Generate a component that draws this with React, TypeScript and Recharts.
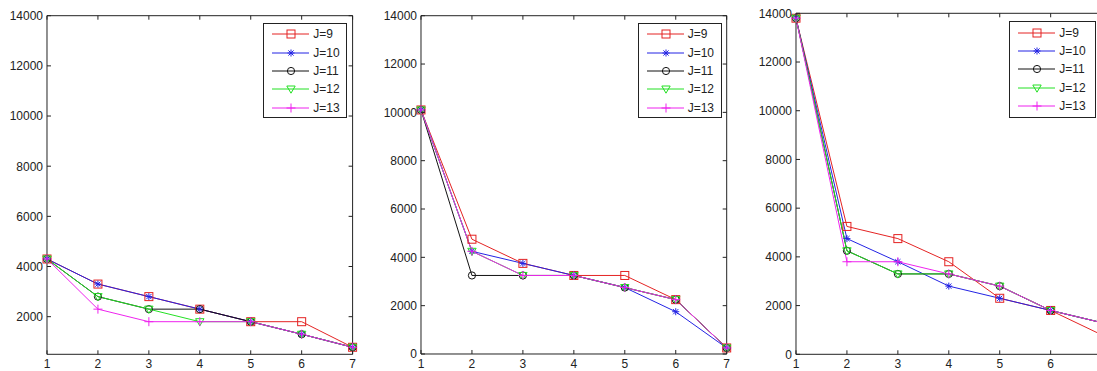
import React from 'react';
import { LineChart, Line, XAxis, YAxis, Legend } from 'recharts';

const xValues = [1, 2, 3, 4, 5, 6, 7];
// the right panel is cut at the window edge, so its last label is not shown
const xTicksCut = [1, 2, 3, 4, 5, 6];
const seriesNames = ['J=9', 'J=10', 'J=11', 'J=12', 'J=13'];
const seriesKeys = ['j9', 'j10', 'j11', 'j12', 'j13'];
const seriesColors = ['#e42222', '#2222e4', '#111111', '#22e022', '#ee22ee'];
const seriesMarkers = ['square', 'star', 'circle', 'triangle', 'plus'];

const yTicksFrom2000 = [2000, 4000, 6000, 8000, 10000, 12000, 14000];
const yTicksFrom0 = [0, 2000, 4000, 6000, 8000, 10000, 12000, 14000];

// left panel
const p1J9 = [4300, 3300, 2800, 2300, 1800, 1800, 780];
const p1J10 = [4300, 3300, 2800, 2300, 1800, 1300, 780];
const p1J11 = [4300, 2800, 2300, 2300, 1800, 1300, 780];
const p1J12 = [4300, 2800, 2300, 1800, 1800, 1300, 780];
const p1J13 = [4300, 2300, 1800, 1800, 1800, 1300, 780];

// middle panel
const p2J9 = [10100, 4750, 3750, 3250, 3250, 2250, 250];
const p2J10 = [10100, 4250, 3750, 3250, 2750, 1750, 250];
const p2J11 = [10100, 3250, 3250, 3250, 2750, 2250, 250];
const p2J12 = [10100, 4250, 3250, 3250, 2750, 2250, 250];
const p2J13 = [10100, 4250, 3250, 3250, 2750, 2250, 250];

// right panel
const p3J9 = [13800, 5250, 4750, 3800, 2300, 1800, 800];
const p3J10 = [13800, 4750, 3800, 2800, 2300, 1800, 1300];
const p3J11 = [13800, 4250, 3300, 3300, 2800, 1800, 1300];
const p3J12 = [13800, 4250, 3300, 3300, 2800, 1800, 1300];
const p3J13 = [13800, 3800, 3800, 3300, 2800, 1800, 1300];

const FONT = '"Liberation Sans", Arial, Helvetica, sans-serif';
const AXIS = '#222';

const buildRows = (series: number[][]) =>
  xValues.map((x, i) => {
    const row: any = { x };
    seriesKeys.forEach((k, s) => (row[k] = series[s][i]));
    return row;
  });

const Marker = ({ shape, cx, cy, color }: any) => {
  const p = { stroke: color, strokeWidth: 1, fill: 'none' };
  if (shape === 'square') return <rect x={cx - 4} y={cy - 4} width={8} height={8} {...p} />;
  if (shape === 'circle') return <circle cx={cx} cy={cy} r={3.6} {...p} />;
  if (shape === 'triangle')
    return <polygon points={`${cx - 4.2},${cy - 3} ${cx + 4.2},${cy - 3} ${cx},${cy + 4.2}`} {...p} />;
  if (shape === 'plus')
    return <path d={`M${cx - 4.5},${cy}H${cx + 4.5}M${cx},${cy - 4.5}V${cy + 4.5}`} {...p} />;
  return (
    <path
      d={`M${cx - 3.5},${cy}H${cx + 3.5}M${cx},${cy - 3.5}V${cy + 3.5}M${cx - 2.6},${cy - 2.6}L${cx + 2.6},${cy + 2.6}M${cx - 2.6},${cy + 2.6}L${cx + 2.6},${cy - 2.6}`}
      {...p}
    />
  );
};

const makeDot = (shape: string, color: string, key: string) => (props: any) =>
  <Marker key={`${key}-${props.index}`} shape={shape} cx={props.cx} cy={props.cy} color={color} />;

const BottomTick = (p: any) => (
  <g>
    <line x1={p.x} y1={p.y} x2={p.x} y2={p.y - 4} stroke={AXIS} />
    <text x={p.x} y={p.y + 5} dy="0.71em" textAnchor="middle" fontSize={12} fontFamily={FONT} fill="#222">
      {p.payload.value}
    </text>
  </g>
);
const TopTick = (p: any) => <line x1={p.x} y1={p.y} x2={p.x} y2={p.y + 4} stroke={AXIS} />;
const LeftTick = (p: any) => (
  <g>
    <line x1={p.x} y1={p.y} x2={p.x + 4} y2={p.y} stroke={AXIS} />
    <text x={p.x - 4} y={p.y} dy="0.36em" textAnchor="end" fontSize={12} fontFamily={FONT} fill="#222">
      {p.payload.value}
    </text>
  </g>
);
const RightTick = (p: any) => <line x1={p.x} y1={p.y} x2={p.x - 4} y2={p.y} stroke={AXIS} />;

const LegendBox = ({ w, h }: any) => (
  <div
    style={{
      width: w,
      height: h,
      boxSizing: 'border-box',
      border: '1px solid #222',
      background: '#fff',
      paddingTop: 1.5,
      fontFamily: FONT,
      fontSize: 12,
      color: '#222',
    }}
  >
    {seriesNames.map((n, i) => (
      <div key={n} style={{ display: 'flex', alignItems: 'center', height: 18.3 }}>
        <svg width={49} height={12} style={{ display: 'block' }}>
          <line x1={8} y1={6} x2={45} y2={6} stroke={seriesColors[i]} />
          <Marker shape={seriesMarkers[i]} cx={27} cy={6} color={seriesColors[i]} />
        </svg>
        <span>{n}</span>
      </div>
    ))}
  </div>
);

const Panel = ({ series, L, R, T, B, domain, ticks, xTicks, legend }: any) => {
  const divLeft = L - 50;
  const width = R - L + 100;
  const data = buildRows(series);
  return (
    <div style={{ position: 'absolute', left: divLeft, top: 0 }}>
      <LineChart
        width={width}
        height={371}
        data={data}
        margin={{ top: T - 5, bottom: 371 - B - 16, left: 10, right: 40 }}
      >
        <XAxis
          dataKey="x"
          type="number"
          domain={[1, 7]}
          ticks={xTicks}
          height={16}
          tickLine={false}
          tickSize={0}
          tickMargin={0}
          tick={<BottomTick />}
          stroke={AXIS}
          interval={0}
        />
        <XAxis
          xAxisId="top"
          orientation="top"
          dataKey="x"
          type="number"
          domain={[1, 7]}
          ticks={xValues}
          height={5}
          tickLine={false}
          tickSize={0}
          tickMargin={0}
          tick={<TopTick />}
          stroke={AXIS}
          interval={0}
        />
        <YAxis
          type="number"
          domain={domain}
          ticks={ticks}
          width={40}
          tickLine={false}
          tickSize={0}
          tickMargin={0}
          tick={<LeftTick />}
          stroke={AXIS}
          interval={0}
          allowDataOverflow
        />
        <YAxis
          yAxisId="right"
          orientation="right"
          type="number"
          domain={domain}
          ticks={ticks}
          width={10}
          tickLine={false}
          tickSize={0}
          tickMargin={0}
          tick={<RightTick />}
          stroke={AXIS}
          interval={0}
          allowDataOverflow
        />
        <Legend
          layout="vertical"
          align="center"
          verticalAlign="middle"
          content={() => <LegendBox w={legend.w} h={legend.h} />}
          wrapperStyle={{ left: legend.x - divLeft, top: legend.y, width: legend.w, height: legend.h }}
        />
        {seriesKeys.map((k, i) => (
          <Line
            key={k}
            dataKey={k}
            name={seriesNames[i]}
            type="linear"
            stroke={seriesColors[i]}
            strokeWidth={1}
            dot={makeDot(seriesMarkers[i], seriesColors[i], k)}
            activeDot={false}
            isAnimationActive={false}
          />
        ))}
      </LineChart>
    </div>
  );
};

export default function App() {
  return (
    <div
      style={{
        position: 'absolute',
        left: 0,
        top: 0,
        width: 1097,
        height: 371,
        overflow: 'hidden',
        background: '#fff',
      }}
    >
      <Panel
        series={[p1J9, p1J10, p1J11, p1J12, p1J13]}
        L={46.7}
        R={352.3}
        T={15.7}
        B={354.3}
        domain={[500, 14000]}
        ticks={yTicksFrom2000}
        xTicks={xValues}
        legend={{ x: 263.3, y: 22.7, w: 84, h: 95 }}
      />
      <Panel
        series={[p2J9, p2J10, p2J11, p2J12, p2J13]}
        L={421}
        R={726.7}
        T={15.7}
        B={354}
        domain={[0, 14000]}
        ticks={yTicksFrom0}
        xTicks={xValues}
        legend={{ x: 637.7, y: 22.7, w: 84, h: 95 }}
      />
      <Panel
        series={[p3J9, p3J10, p3J11, p3J12, p3J13]}
        L={796}
        R={1101.6}
        T={13.3}
        B={354.3}
        domain={[0, 14000]}
        ticks={yTicksFrom0}
        xTicks={xTicksCut}
        legend={{ x: 1009.3, y: 21, w: 87, h: 97 }}
      />
    </div>
  );
}
